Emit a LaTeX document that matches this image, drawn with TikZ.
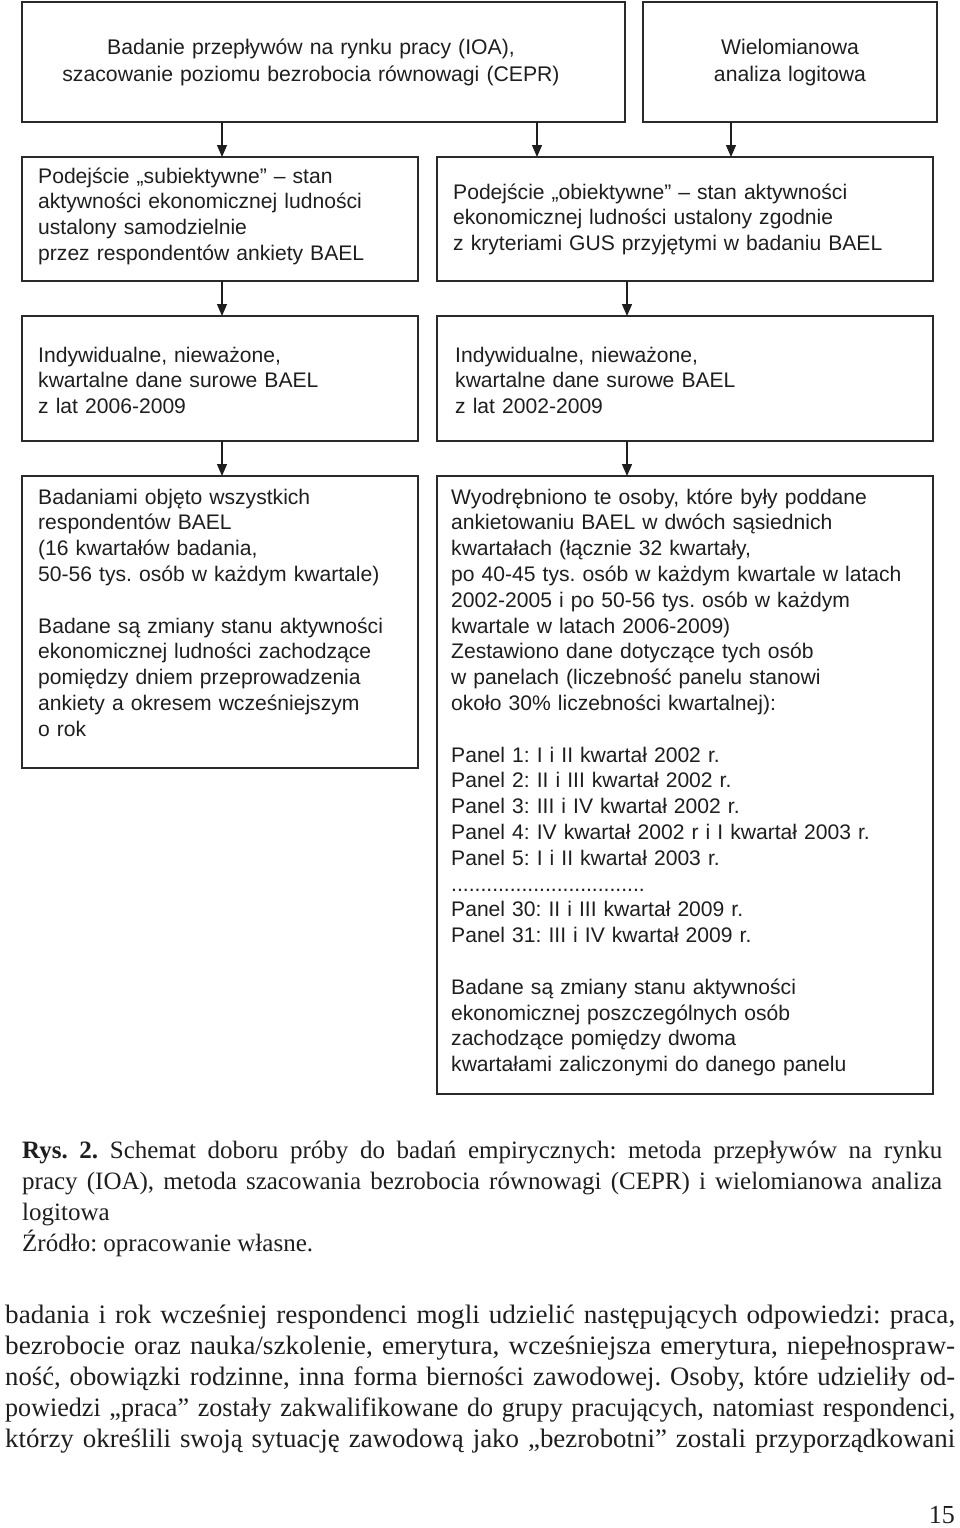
\documentclass[tikz,border=0pt]{standalone}
\usepackage{fontspec}
\usepackage{graphicx}
\setmainfont{Liberation Serif}
\newfontfamily\boxfont{Liberation Sans}
\usetikzlibrary{arrows.meta}
\definecolor{ink}{HTML}{1E1E1E}
\definecolor{frame}{HTML}{2A2A2A}
\frenchspacing
\newcommand{\fullline}[1]{\resizebox{950pt}{\height}{#1}}
\begin{document}
\begin{tikzpicture}[x=1pt,y=-1pt,
  box/.style={draw=frame, line width=2.8pt, inner sep=0pt, outer sep=0pt},
  txt/.style={font=\boxfont\fontsize{21.1}{25.8}\selectfont, text=ink, inner sep=0pt,
    text width=480pt, align=left, anchor=base west},
  ctxt/.style={font=\boxfont\fontsize{21.2}{26.5}\selectfont, text=ink, inner sep=0pt,
    text width=560pt, align=center, anchor=base},
  serif/.style={text=ink, inner sep=0pt, anchor=base west},
  arr/.style={draw=ink, line width=1.3pt, -{Triangle[length=12pt,width=10pt]}},
]
\useasboundingbox (0,0) rectangle (960,1528);

% boxes
\node[box, minimum width=603pt, minimum height=120pt] (A) at (323.5,62) {};
\node[box, minimum width=294pt, minimum height=120pt] (B) at (790,62) {};
\node[box, minimum width=396pt, minimum height=124pt] (C) at (220,219) {};
\node[box, minimum width=496pt, minimum height=124pt] (D) at (685,219) {};
\node[box, minimum width=396pt, minimum height=125pt] (E) at (220,378.5) {};
\node[box, minimum width=496pt, minimum height=125pt] (F) at (685,378.5) {};
\node[box, minimum width=396pt, minimum height=292pt] (G) at (220,622) {};
\node[box, minimum width=496pt, minimum height=618pt] (H) at (685,785) {};

% texts
\node[ctxt] (tA) at (311,55) {Badanie przepływów na rynku pracy (IOA),\\szacowanie poziomu bezrobocia równowagi (CEPR)};
\node[ctxt] (tB) at (790,55) {Wielomianowa\\analiza logitowa};
\node[txt] (tC) at (38,183) {Podejście „subiektywne” – stan\\aktywności ekonomicznej ludności\\ustalony samodzielnie\\przez respondentów ankiety BAEL};
\node[txt] (tD) at (453,199) {Podejście „obiektywne” – stan aktywności\\ekonomicznej ludności ustalony zgodnie\\z kryteriami GUS przyjętymi w badaniu BAEL};
\node[txt] (tE) at (38,362) {Indywidualne, nieważone,\\kwartalne dane surowe BAEL\\z lat 2006-2009};
\node[txt] (tF) at (455,362) {Indywidualne, nieważone,\\kwartalne dane surowe BAEL\\z lat 2002-2009};
\node[txt] (tG) at (38,504) {Badaniami objęto wszystkich\\respondentów BAEL\\(16 kwartałów badania,\\50-56 tys. osób w każdym kwartale)\\[25.8pt]Badane są zmiany stanu aktywności\\ekonomicznej ludności zachodzące\\pomiędzy dniem przeprowadzenia\\ankiety a okresem wcześniejszym\\o rok};
\node[txt] (tH) at (451,504) {Wyodrębniono te osoby, które były poddane\\ankietowaniu BAEL w dwóch sąsiednich\\kwartałach (łącznie 32 kwartały,\\po 40-45 tys. osób w każdym kwartale w latach\\2002-2005 i po 50-56 tys. osób w każdym\\kwartale w latach 2006-2009)\\Zestawiono dane dotyczące tych osób\\w panelach (liczebność panelu stanowi\\około 30\% liczebności kwartalnej):\\[25.8pt]Panel 1: I i II kwartał 2002 r.\\Panel 2: II i III kwartał 2002 r.\\Panel 3: III i IV kwartał 2002 r.\\Panel 4: IV kwartał 2002 r i I kwartał 2003 r.\\Panel 5: I i II kwartał 2003 r.\\.................................\\Panel 30: II i III kwartał 2009 r.\\Panel 31: III i IV kwartał 2009 r.\\[25.8pt]Badane są zmiany stanu aktywności\\ekonomicznej poszczególnych osób\\zachodzące pomiędzy dwoma\\kwartałami zaliczonymi do danego panelu};

% arrows
\coordinate (x1) at (222,0);
\coordinate (x2) at (537,0);
\coordinate (x3) at (731,0);
\coordinate (x4) at (627,0);
\draw[arr] (A.south -| x1) -- (C.north -| x1);
\draw[arr] (A.south -| x2) -- (D.north -| x2);
\draw[arr] (B.south -| x3) -- (D.north -| x3);
\draw[arr] (C.south -| x1) -- (E.north -| x1);
\draw[arr] (D.south -| x4) -- (F.north -| x4);
\draw[arr] (E.south -| x1) -- (G.north -| x1);
\draw[arr] (F.south -| x4) -- (H.north -| x4);

% caption
\node[serif, font=\fontsize{25}{31}\selectfont, text width=920pt, align=justify] (cap) at (22,1158) {\textbf{Rys. 2.} Schemat doboru próby do badań empirycznych: metoda przepływów na rynku\linebreak pracy (IOA), metoda szacowania bezrobocia równowagi (CEPR) i wielomianowa analiza\linebreak logitowa\\Źródło: opracowanie własne.};

% body text
\node[serif, font=\fontsize{26.6}{31}\selectfont, text width=950pt, align=left] (body) at (5,1323) {\fullline{badania i rok wcześniej respondenci mogli udzielić następujących odpowiedzi: praca,}\\\fullline{bezrobocie oraz nauka/szkolenie, emerytura, wcześniejsza emerytura, niepełnospraw-}\\\fullline{ność, obowiązki rodzinne, inna forma bierności zawodowej. Osoby, które udzieliły od-}\\\fullline{powiedzi „praca” zostały zakwalifikowane do grupy pracujących, natomiast respondenci,}\\\fullline{którzy określili swoją sytuację zawodową jako „bezrobotni” zostali przyporządkowani}};

% page number
\node[font=\fontsize{26}{31}\selectfont, text=ink, inner sep=0pt, anchor=base east] (pg) at (955,1523) {15};
\end{tikzpicture}
\end{document}
